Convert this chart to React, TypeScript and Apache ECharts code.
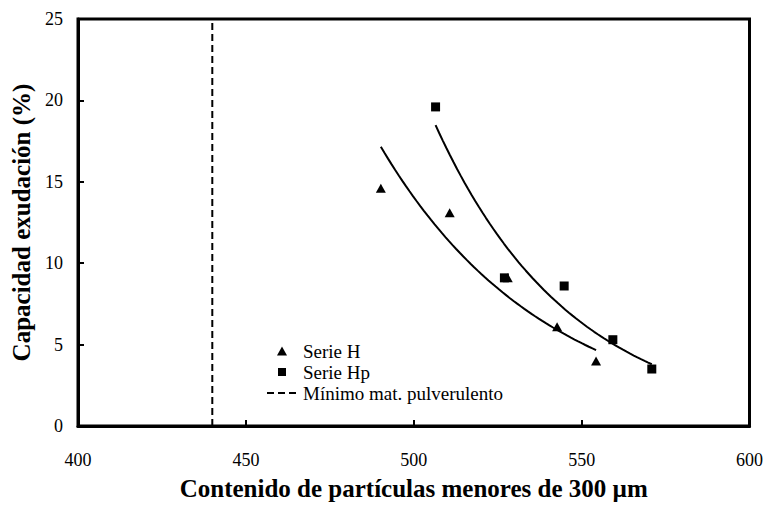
import React, { useEffect, useRef } from "react";
import * as echarts from "echarts";

const serieHX = [490.2, 510.7, 528, 542.7, 554.3];
const serieHY = [14.6, 13.1, 9.1, 6.1, 4.0];
const serieHpX = [506.5, 527, 544.8, 559.3, 570.9];
const serieHpY = [19.6, 9.1, 8.6, 5.3, 3.5];
const minimoX = 440;
const xTicks = [400, 450, 500, 550, 600];
const yTicks = [0, 5, 10, 15, 20, 25];
const legendNames = ["Serie H", "Serie Hp", "Mínimo mat. pulverulento"];

const FONT = "'Liberation Serif', 'Times New Roman', serif";

// Exponential least-squares trend line (as in a spreadsheet trendline) over the data range
function expTrend(xs: number[], ys: number[], steps: number) {
  const n = xs.length;
  const ls = ys.map((v) => Math.log(v));
  const mx = xs.reduce((a, b) => a + b, 0) / n;
  const ml = ls.reduce((a, b) => a + b, 0) / n;
  let sxy = 0, sxx = 0;
  for (let i = 0; i < n; i++) {
    sxy += (xs[i] - mx) * (ls[i] - ml);
    sxx += (xs[i] - mx) * (xs[i] - mx);
  }
  const b = sxy / sxx;
  const a = ml - b * mx;
  const x0 = Math.min(...xs), x1 = Math.max(...xs);
  const out: number[][] = [];
  for (let i = 0; i <= steps; i++) {
    const x = x0 + ((x1 - x0) * i) / steps;
    out.push([x, Math.exp(a + b * x)]);
  }
  return out;
}

export default function App() {
  const ref = useRef<HTMLDivElement>(null);
  useEffect(() => {
    if (!ref.current) return;
    const chart = echarts.init(ref.current, undefined, { renderer: "svg" });
    const lx = 282;
    const ly = [351, 372, 393];
    const tx = 303;
    chart.setOption({
      animation: false,
      backgroundColor: "#fff",
      grid: {
        left: 78,
        right: 14,
        top: 19,
        bottom: 77,
        show: true,
        borderColor: "#000",
        borderWidth: 3,
      },
      graphic: [
        {
          type: "polygon",
          shape: { points: [[lx - 5, ly[0] + 4.5], [lx + 5, ly[0] + 4.5], [lx, ly[0] - 4.5]] },
          style: { fill: "#000" },
        },
        {
          type: "rect",
          shape: { x: lx - 4, y: ly[1] - 4, width: 8, height: 8 },
          style: { fill: "#000" },
        },
        {
          type: "line",
          shape: { x1: 267, y1: ly[2], x2: 298, y2: ly[2] },
          style: { stroke: "#000", lineWidth: 2, lineDash: [7, 4] },
        },
        ...legendNames.map((name, i) => ({
          type: "text",
          x: tx,
          y: ly[i],
          style: {
            text: name,
            fill: "#000",
            font: `19px ${FONT}`,
            textVerticalAlign: "middle",
            verticalAlign: "middle",
          },
        })),
      ],
      xAxis: {
        type: "value",
        min: 400,
        max: 600,
        interval: 50,
        name: "Contenido de partículas menores de 300 µm",
        nameLocation: "middle",
        nameGap: 50,
        nameTextStyle: { fontFamily: FONT, fontSize: 25, fontWeight: "bold", color: "#000" },
        axisLine: { show: true, onZero: false, lineStyle: { color: "#000", width: 3 } },
        axisTick: { show: true, inside: true, length: 6, lineStyle: { color: "#000", width: 2 } },
        axisLabel: {
          fontFamily: FONT,
          fontSize: 18,
          color: "#000",
          margin: 25,
          formatter: (v: number) => (xTicks.includes(v) ? String(v) : ""),
        },
        splitLine: { show: false },
      },
      yAxis: {
        type: "value",
        min: 0,
        max: 25,
        interval: 5,
        name: "Capacidad exudación (%)",
        nameLocation: "middle",
        nameGap: 43,
        nameTextStyle: { fontFamily: FONT, fontSize: 25, fontWeight: "bold", color: "#000" },
        axisLine: { show: true, onZero: false, lineStyle: { color: "#000", width: 3 } },
        axisTick: { show: true, inside: true, length: 6, lineStyle: { color: "#000", width: 2 } },
        axisLabel: {
          fontFamily: FONT,
          fontSize: 18,
          color: "#000",
          margin: 15,
          formatter: (v: number) => (yTicks.includes(v) ? String(v) : ""),
        },
        splitLine: { show: false },
      },
      series: [
        {
          name: "Mínimo mat. pulverulento",
          type: "line",
          data: [
            [minimoX, 0],
            [minimoX, 25],
          ],
          symbol: "none",
          lineStyle: { color: "#000", width: 2, type: [7, 4] },
          itemStyle: { color: "#000" },
        },
        {
          name: "trendH",
          type: "line",
          data: expTrend(serieHX, serieHY, 60),
          symbol: "none",
          lineStyle: { color: "#000", width: 2 },
        },
        {
          name: "trendHp",
          type: "line",
          data: expTrend(serieHpX, serieHpY, 60),
          symbol: "none",
          lineStyle: { color: "#000", width: 2 },
        },
        {
          name: "Serie H",
          type: "scatter",
          symbol: "triangle",
          symbolSize: [10, 9],
          data: serieHX.map((x, i) => [x, serieHY[i]]),
          itemStyle: { color: "#000", opacity: 1 },
        },
        {
          name: "Serie Hp",
          type: "scatter",
          symbol: "rect",
          symbolSize: 9,
          data: serieHpX.map((x, i) => [x, serieHpY[i]]),
          itemStyle: { color: "#000", opacity: 1 },
        },
      ],
    });
    return () => chart.dispose();
  }, []);
  return (
    <div
      ref={ref}
      style={{ position: "fixed", left: 0, top: 0, width: 766, height: 506 }}
    />
  );
}
